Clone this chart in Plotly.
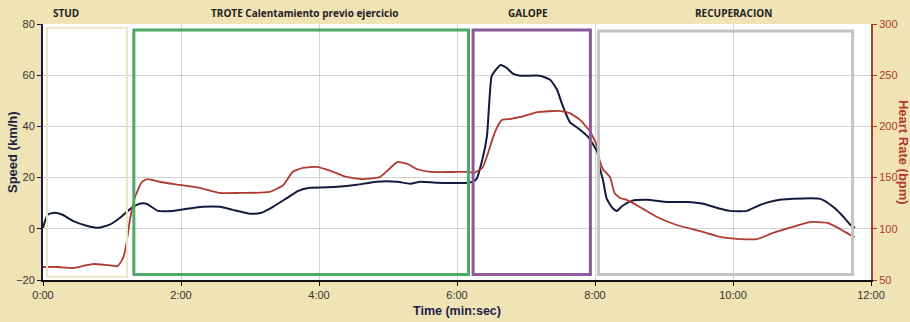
import plotly.graph_objects as go

# ---- data ----
speed_t = [0, 4, 10, 17, 26, 38, 48, 58, 67, 76, 84, 90, 100, 113, 125, 139, 154, 165, 180, 190,
           200, 212, 222, 232, 256, 273, 290, 308, 319, 328, 343, 369, 374, 377, 382, 386, 390, 393,
           398, 403, 409, 415, 432, 441, 447, 451, 458, 467, 474, 482, 484, 487, 490, 495, 499, 504,
           512, 525, 543, 560, 574, 589, 597, 612, 624, 635, 652, 676, 687, 696, 702, 706]
speed_v = [0.4, 5.5, 6.3, 5.5, 3.1, 1.2, 0.4, 1.6, 4.3, 7.8, 9.8, 9.8, 7.0, 7.0, 7.8, 8.6, 8.6, 7.4, 5.9, 6.3,
           8.6, 12.0, 14.8, 16.0, 16.4, 17.2, 18.4, 18.4, 17.6, 18.4, 18.0, 18.0, 18.4, 19.5, 27, 36, 59.4, 61.7,
           64, 62.9, 60.5, 59.8, 59.8, 58.2, 54.3, 49.2, 41.8, 38.7, 35.9, 30, 24, 19, 12, 8.2, 7.0, 9.0,
           10.9, 11.3, 10.5, 10.5, 9.8, 7.8, 7.0, 7.0, 9.4, 10.9, 11.7, 11.7, 8.6, 4.7, 1.6, 0.4]

hr_t = [0, 12, 26, 35, 43, 56, 65, 70, 73, 76, 80, 86, 91, 102, 119, 137, 154, 171, 197, 209,
        217, 226, 238, 250, 264, 278, 293, 302, 308, 317, 325, 337, 360, 371, 374, 382, 387, 393,
        399, 406, 415, 430, 450, 458, 467, 476, 482, 484, 487, 493, 497, 502, 508, 519, 534, 551,
        571, 589, 606, 621, 635, 652, 667, 682, 693, 702, 706]
hr_v = [62.7, 62.7, 61.7, 63.7, 65.6, 64.6, 63.7, 72.5, 89, 111.5, 131, 145.7, 148.6, 145.7, 142.8, 139.8, 135, 135, 136, 142.8,
        155.5, 159.4, 160.4, 156.5, 150.6, 148.6, 150.6, 159.4, 165.2, 163.3, 158.4, 155.5, 155.5, 155.5, 154.5, 159.4, 174, 194.5,
        206.3, 207.2, 209.2, 214, 215, 213, 206.3, 194.5, 180, 167, 158, 150.6, 135, 130, 128, 121.3, 111.5, 103.7,
        97.9, 92, 90, 90, 96, 101.8, 106.6, 105.7, 99.8, 94, 92]

x_tickvals = [0, 120, 240, 360, 480, 600, 720]
x_ticktext = ["0:00", "2:00", "4:00", "6:00", "8:00", "10:00", "12:00"]

phase_names = ["STUD", "TROTE Calentamiento previo ejercicio", "GALOPE", "RECUPERACION"]
phase_label_x = [20, 227, 422, 600]
phase_start = [3.5, 79, 374, 483]
phase_end = [73, 370, 476, 704]
phase_top = [78.5, 77.7, 77.7, 77.3]
phase_bottom = [-18.7, -17.9, -17.9, -17.9]
phase_colors = ["#ECE4C6", "#4FA866", "#8B5B9B", "#C4C4C4"]
phase_widths = [2, 3, 3, 3]

NAVY = "#141a3c"
RED = "#b03a2e"

fig = go.Figure()
fig.add_trace(go.Scatter(x=speed_t, y=speed_v, mode="lines",
                         line=dict(color=NAVY, width=2, shape="spline", smoothing=0.5),
                         showlegend=False, yaxis="y"))
fig.add_trace(go.Scatter(x=hr_t, y=hr_v, mode="lines",
                         line=dict(color=RED, width=1.8, shape="spline", smoothing=0.5),
                         showlegend=False, yaxis="y2"))

for s, e, top, bot, c, w in zip(phase_start, phase_end, phase_top, phase_bottom, phase_colors, phase_widths):
    fig.add_shape(type="rect", xref="x", yref="y", x0=s, x1=e, y0=bot, y1=top,
                  line=dict(color=c, width=w), fillcolor="rgba(0,0,0,0)", layer="above")

for name, xx in zip(phase_names, phase_label_x):
    fig.add_annotation(text="<b>" + name + "</b>", xref="x", yref="paper", x=xx, y=1.043,
                       xanchor="center", yanchor="middle",
                       showarrow=False, font=dict(family="Open Sans", size=10, color="#222222"))

fig.add_annotation(text="<b>Speed (km/h)</b>", xref="paper", yref="paper", x=-0.0374, y=0.5,
                   xanchor="center", yanchor="middle",
                   textangle=-90, showarrow=False, font=dict(family="Liberation Sans", size=13, color="#1a1f4a"))
fig.add_annotation(text="<b>Heart Rate (bpm)</b>", xref="paper", yref="paper", x=1.0399, y=0.5,
                   xanchor="center", yanchor="middle",
                   textangle=90, showarrow=False, font=dict(family="Liberation Sans", size=13, color=RED))
fig.add_annotation(text="<b>Time (min:sec)</b>", xref="paper", yref="paper", x=0.5, y=-0.121,
                   xanchor="center", yanchor="middle",
                   showarrow=False, font=dict(family="Liberation Sans", size=12.5, color="#1a1f4a"))

fig.update_layout(
    width=910, height=322,
    margin=dict(l=43, r=39, t=24, b=42),
    paper_bgcolor="#F0E3B5",
    plot_bgcolor="#FFFFFF",
    xaxis=dict(range=[0, 720], tickvals=x_tickvals, ticktext=x_ticktext, automargin=False,
               showgrid=True, gridcolor="#D3D3D3", gridwidth=1,
               showline=True, linecolor="#111111", linewidth=2,
               ticks="outside", ticklen=4, tickcolor="#111111",
               tickfont=dict(family="Liberation Sans", size=11, color="#333333"),
               zeroline=False),
    yaxis=dict(range=[-20, 80], dtick=20, showgrid=True, gridcolor="#D3D3D3", gridwidth=1,
               showline=True, linecolor=NAVY, linewidth=2, automargin=False,
               ticks="outside", ticklen=4, tickcolor=NAVY,
               tickfont=dict(family="Liberation Sans", size=11, color="#333333"),
               zeroline=False),
    yaxis2=dict(range=[50, 300], dtick=50, overlaying="y", side="right", showgrid=False,
                showline=True, linecolor=RED, linewidth=2, automargin=False,
                ticks="outside", ticklen=4, tickcolor=RED,
                tickfont=dict(family="Liberation Sans", size=11, color=RED),
                zeroline=False),
)

fig.write_html("out.html", config={"displayModeBar": False},
               post_script="document.body.style.margin='0px';document.body.style.overflow='hidden';")
